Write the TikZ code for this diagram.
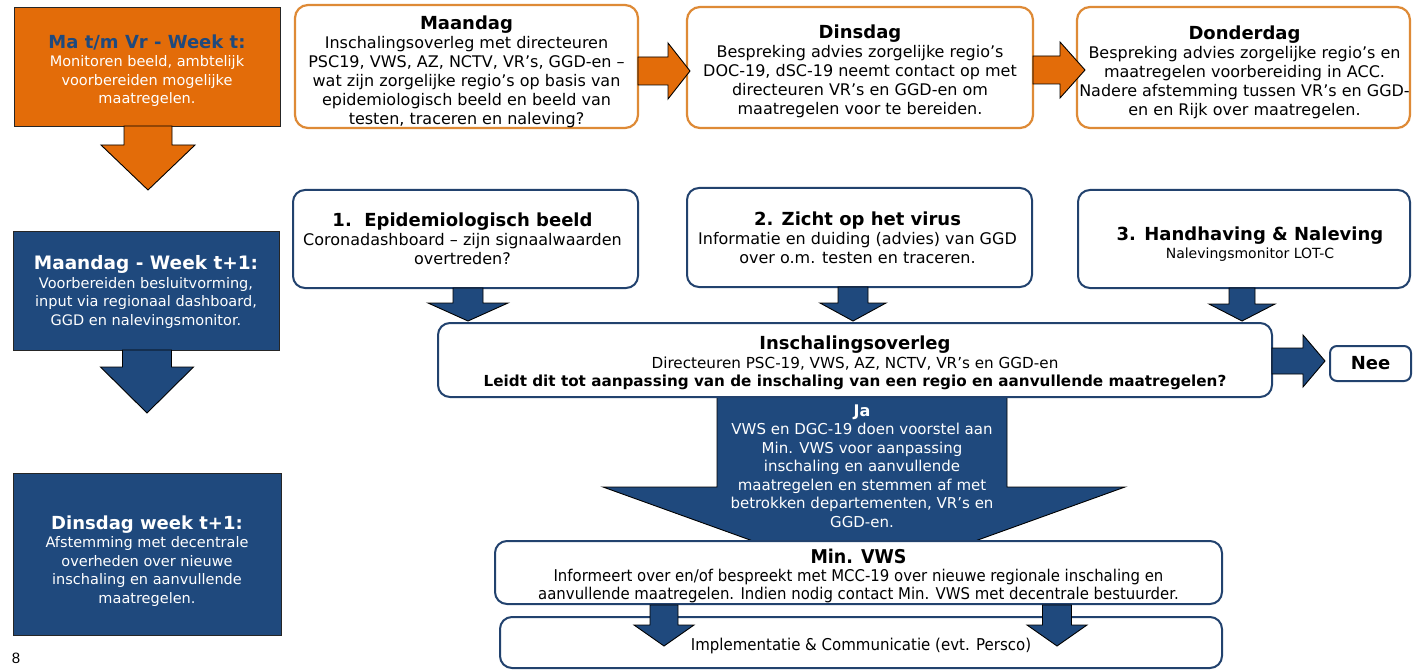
\documentclass[tikz,border=0pt]{standalone}
\usepackage{fontspec}
\setmainfont{DejaVu Sans}
\newfontfamily\condfont[FakeStretch=0.92]{DejaVu Sans}
\newfontfamily\arialfont{Liberation Sans}
\usetikzlibrary{calc}
\definecolor{org}{HTML}{E36C09}
\definecolor{navy}{HTML}{1F497D}
\definecolor{orgline}{HTML}{DE8A36}
\definecolor{navyline}{HTML}{22426E}
\newcommand{\fs}[2]{\fontsize{#1}{#2}\selectfont}
% horizontal block arrow: x1, xtip, yc, shaft half, head half, head length, style
\newcommand{\harrow}[7]{\draw[#7] (#1,#3-#4) -- (#2-#6,#3-#4) -- (#2-#6,#3-#5) -- (#2,#3) -- (#2-#6,#3+#5) -- (#2-#6,#3+#4) -- (#1,#3+#4) -- cycle;}
% vertical block arrow: xc, y1, ytip, shaft half, head half, head length, style
\newcommand{\varrow}[7]{\draw[#7] (#1-#4,#2) -- (#1-#4,#3-#6) -- (#1-#5,#3-#6) -- (#1,#3) -- (#1+#5,#3-#6) -- (#1+#4,#3-#6) -- (#1+#4,#2) -- cycle;}
\tikzset{
  topbox/.style={draw=orgline, line width=2.2pt, rounded corners=13pt, fill=white, inner sep=0pt},
  midbox/.style={draw=navyline, line width=2pt, rounded corners=12pt, fill=white, inner sep=0pt},
  sidebox/.style={draw=black!85, line width=0.8pt, inner sep=0pt},
  txt/.style={align=center, inner sep=0pt, font=\fs{16}{19}},
  wtxt/.style={align=center, inner sep=0pt, text=white, font=\fs{14.5}{18.5}},
  oarrow/.style={fill=org, draw=black, line width=0.9pt},
  barrow/.style={fill=navy, draw=black, line width=0.9pt},
}
\begin{document}
\begin{tikzpicture}[x=1pt,y=-1pt]
\fill[white] (0,0) rectangle (1413,671);
\useasboundingbox (0,0) rectangle (1413,671);

% ---------- left column ----------
\node[sidebox, fill=org, minimum width=266pt, minimum height=119pt] (wk) at (147,66.5) {};
\node[wtxt] (wk-t) at ($(wk.center)+(0,4)$)
  {{\color{navy}\fs{18}{20}\bfseries Ma t/m Vr - Week t:}\\Monitoren beeld, ambtelijk\\voorbereiden mogelijke\\maatregelen.};
\varrow{148}{126}{190}{24}{47}{45}{oarrow}
\node[sidebox, fill=navy, minimum width=266pt, minimum height=119pt] (ma1) at (146,290.5) {};
\node[wtxt] (ma1-t) at ($(ma1.center)+(0,1.5)$)
  {{\fs{18.5}{21}\bfseries Maandag - Week t+1:}\\Voorbereiden besluitvorming,\\input via regionaal dashboard,\\GGD en nalevingsmonitor.};
\varrow{147}{350}{413}{24.5}{46.5}{46}{barrow}
\node[sidebox, fill=navy, minimum width=268pt, minimum height=162pt] (di1) at (147,554) {};
\node[wtxt] (di1-t) at ($(di1.center)+(0,7)$)
  {{\fs{18}{21}\bfseries Dinsdag week t+1:}\\Afstemming met decentrale\\overheden over nieuwe\\inschaling en aanvullende\\maatregelen.};
\node[font=\arialfont\fs{15}{17}, inner sep=0pt] (pg) at (16,658) {8};

% ---------- top row ----------
\node[topbox, minimum width=343pt, minimum height=123pt] (maandag) at (466.5,66.5) {};
\node[txt] (maandag-t) at ($(maandag.center)+(0,5)$)
  {{\fs{18}{21}\bfseries Maandag}\\Inschalingsoverleg met directeuren\\PSC19, VWS, AZ, NCTV, VR’s, GGD-en –\\wat zijn zorgelijke regio’s op basis van\\epidemiologisch beeld en beeld van\\testen, traceren en naleving?};
\node[topbox, minimum width=346pt, minimum height=121pt] (dinsdag) at (860,67.5) {};
\node[txt] (dinsdag-t) at ($(dinsdag.center)+(0,4)$)
  {{\fs{18}{21}\bfseries Dinsdag}\\Bespreking advies zorgelijke regio’s\\DOC-19, dSC-19 neemt contact op met\\directeuren VR’s en GGD-en om\\maatregelen voor te bereiden.};
\node[topbox, minimum width=333pt, minimum height=121pt] (donderdag) at (1243.5,67.5) {};
\node[txt] (donderdag-t) at ($(donderdag.center)+(1,5)$)
  {{\fs{18}{21}\bfseries Donderdag}\\Bespreking advies zorgelijke regio’s en\\maatregelen voorbereiding in ACC.\\Nadere afstemming tussen VR’s en GGD-\\en en Rijk over maatregelen.};
\harrow{638}{690}{71}{14}{28}{22}{oarrow}
\harrow{1033}{1085}{70}{14}{28}{25}{oarrow}

% ---------- middle row ----------
\node[midbox, minimum width=345pt, minimum height=98pt] (epi) at (465.5,239) {};
\node[txt] (epi-t) at ($(epi.center)+(-3,0)$)
  {{\fs{18}{21}\bfseries 1.\ \ Epidemiologisch beeld}\\Coronadashboard – zijn signaalwaarden\\overtreden?};
\node[midbox, minimum width=345pt, minimum height=99pt] (virus) at (859.5,237.5) {};
\node[txt] (virus-t) at ($(virus.center)+(-2,0)$)
  {{\fs{18}{21}\bfseries 2. Zicht op het virus}\\Informatie en duiding (advies) van GGD\\over o.m. testen en traceren.};
\node[midbox, minimum width=332pt, minimum height=98pt] (hand) at (1244,239) {};
\node[txt, font=\fs{14}{18}] (hand-t) at ($(hand.center)+(6,5)$)
  {{\fs{18}{21}\bfseries 3. Handhaving \& Naleving}\\Nalevingsmonitor LOT-C};

% Ja arrow (behind boxes)
\draw[barrow] (717,397) -- (717,487) -- (603,487) -- (864,581) -- (1125,487) -- (1007,487) -- (1007,397) -- cycle;
\node[align=center, text=white, font=\fs{15}{18.5}, inner sep=0pt] (ja) at (862,466)
  {{\fs{16}{19}\bfseries Ja}\\VWS en DGC-19 doen voorstel aan\\Min. VWS voor aanpassing\\inschaling en aanvullende\\maatregelen en stemmen af met\\betrokken departementen, VR’s en\\GGD-en.};

\node[midbox, minimum width=834pt, minimum height=74pt] (insch) at (855,360) {};
\node[txt, font=\fs{15.2}{18.5}] (insch-t) at ($(insch.center)+(0,3)$)
  {{\fs{18}{19}\bfseries Inschalingsoverleg}\\Directeuren PSC-19, VWS, AZ, NCTV, VR’s en GGD-en\\{\bfseries Leidt dit tot aanpassing van de inschaling van een regio en aanvullende maatregelen?}};
\varrow{468}{288}{321}{15}{40}{18}{barrow}
\varrow{853}{287}{321}{15}{33}{18}{barrow}
\varrow{1242}{288}{321}{13}{33}{17}{barrow}

\harrow{1272}{1325}{361}{13}{26}{22}{barrow}
\node[midbox, rounded corners=7pt, minimum width=81pt, minimum height=35pt] (nee) at (1370.5,363.5) {};
\node[txt, font=\fs{18}{20}\bfseries] (nee-t) at (nee.center) {Nee};

% ---------- bottom ----------
\node[midbox, minimum width=727pt, minimum height=63pt] (minvws) at (858.5,572.5) {};
\node[txt, font=\condfont\fs{16.2}{18}] (minvws-t) at ($(minvws.center)+(0,3.5)$)
  {{\fs{19}{20}\bfseries Min. VWS}\\Informeert over en/of bespreekt met MCC-19 over nieuwe regionale inschaling en\\aanvullende maatregelen. Indien nodig contact Min. VWS met decentrale bestuurder.};
\node[midbox, minimum width=722pt, minimum height=51pt] (impl) at (861,642.5) {};
\node[txt, font=\condfont\fs{16.3}{18}] (impl-t) at ($(impl.center)+(0,3)$)
  {Implementatie \& Communicatie (evt. Persco)};
\varrow{664}{605}{646}{14}{30}{21}{barrow}
\varrow{1057}{605}{646}{14.5}{30}{21}{barrow}
\end{tikzpicture}
\end{document}
